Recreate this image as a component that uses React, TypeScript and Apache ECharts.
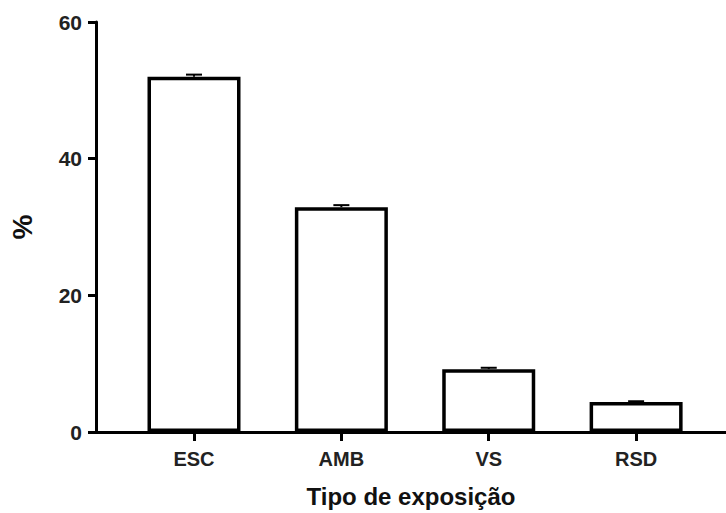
import React, { useEffect, useRef } from "react";
import * as echarts from "echarts";

const categories = ["ESC", "AMB", "VS", "RSD"];
const values = [52.0, 32.9, 9.2, 4.4];
const errors = [0.3, 0.3, 0.2, 0.1];
const yTicks = [0, 20, 40, 60];

export default function App() {
  const ref = useRef<HTMLDivElement>(null);
  useEffect(() => {
    document.body.style.margin = "0";
    const chart = echarts.init(ref.current!, null, { renderer: "svg" });
    const idx = categories.map((_, i) => i);
    const font = "Liberation Sans, Arial, sans-serif";
    chart.setOption({
      animation: false,
      backgroundColor: "#ffffff",
      grid: { left: 96, right: 0, top: 22, bottom: 81 },
      xAxis: {
        type: "value",
        min: -0.665,
        max: 3.61,
        splitLine: { show: false },
        axisLine: { show: true, onZero: false, lineStyle: { color: "#000", width: 3 } },
        axisTick: { show: true, customValues: idx, length: 9, lineStyle: { color: "#000", width: 3 } },
        axisLabel: {
          customValues: idx,
          formatter: (v: number) => categories[Math.round(v)] ?? "",
          color: "#222",
          fontFamily: font,
          fontWeight: "bold",
          fontSize: 20,
          margin: 17,
        },
        name: "Tipo de exposição",
        nameLocation: "middle",
        nameGap: 52,
        nameTextStyle: { color: "#111", fontFamily: font, fontWeight: "bold", fontSize: 24 },
      },
      yAxis: {
        type: "value",
        min: yTicks[0],
        max: yTicks[yTicks.length - 1],
        interval: 20,
        splitLine: { show: false },
        axisLine: { show: true, onZero: false, lineStyle: { color: "#000", width: 3 } },
        axisTick: { show: true, length: 8, lineStyle: { color: "#000", width: 3 } },
        axisLabel: {
          color: "#222",
          fontFamily: font,
          fontWeight: "bold",
          fontSize: 21,
          margin: 14,
        },
        name: "%",
        nameLocation: "middle",
        nameGap: 60,
        nameRotate: 90,
        nameTextStyle: { color: "#111", fontFamily: font, fontWeight: "bold", fontSize: 28 },
      },
      series: [
        {
          type: "bar",
          barWidth: 93,
          data: values.map((v, i) => [i, v]),
          itemStyle: { color: "#fff", borderColor: "#000", borderWidth: 3.5 },
          z: 2,
        },
        {
          type: "custom",
          z: 3,
          data: values.map((v, i) => [i, v, errors[i]]),
          renderItem: (params: any, api: any) => {
            const x = api.value(0);
            const v = api.value(1);
            const e = api.value(2);
            const top = api.coord([x, v + e]);
            const base = api.coord([x, v]);
            const hw = 8;
            return {
              type: "group",
              children: [
                {
                  type: "line",
                  shape: { x1: top[0], y1: top[1], x2: base[0], y2: base[1] },
                  style: { stroke: "#000", lineWidth: 2 },
                },
                {
                  type: "line",
                  shape: { x1: top[0] - hw, y1: top[1], x2: top[0] + hw, y2: top[1] },
                  style: { stroke: "#000", lineWidth: 2 },
                },
              ],
            };
          },
        },
      ],
    });
    return () => chart.dispose();
  }, []);
  return (
    <div
      ref={ref}
      style={{ position: "absolute", left: 0, top: 0, width: 726, height: 513 }}
    />
  );
}
